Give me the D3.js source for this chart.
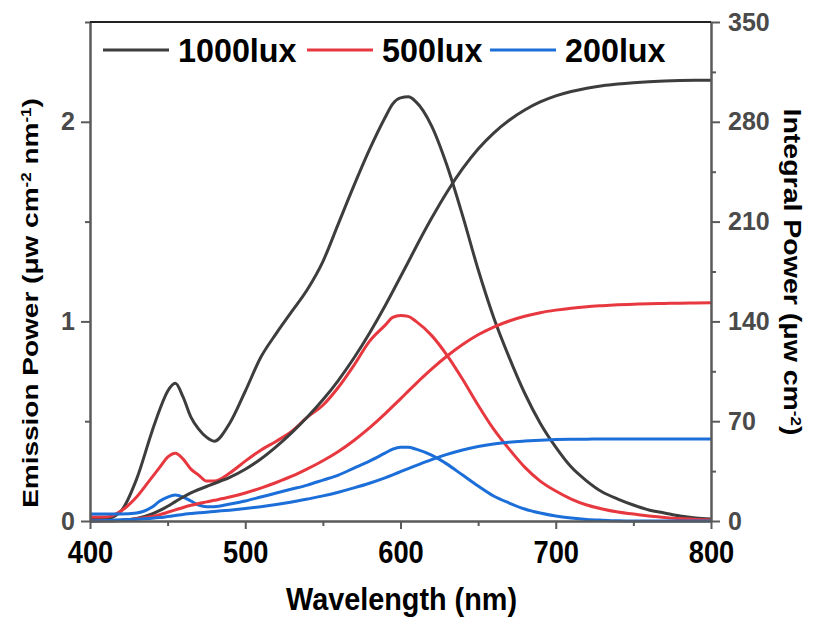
<!DOCTYPE html>
<html>
<head>
<meta charset="utf-8">
<script src="https://cdn.jsdelivr.net/npm/d3@7"></script>
<style>
  body { margin: 0; background: #fff; }
  svg { display: block; }
  text { font-family: "Liberation Sans", Arial, sans-serif; font-weight: bold; }
</style>
</head>
<body>
<div id="chart"></div>
<script>
// wavelength grid (nm)
const wavelength = [400, 410, 420, 430, 440, 445, 450, 455, 460, 465, 470, 475, 480, 490, 500, 510, 520, 530, 540, 550,
  560, 570, 580, 590, 595, 600, 605, 610, 620, 630, 640, 650, 660, 670, 680, 690, 700, 710, 720, 730,
  740, 750, 760, 770, 780, 790, 800];

// emission power (uw cm-2 nm-1), left axis
const emission1000 = [0.01, 0.01, 0.05, 0.21, 0.45, 0.56, 0.65, 0.69, 0.62, 0.52, 0.46, 0.42, 0.40, 0.49, 0.65, 0.82, 0.94, 1.05, 1.16, 1.30,
  1.49, 1.68, 1.86, 2.02, 2.09, 2.12, 2.125, 2.10, 1.98, 1.78, 1.53, 1.26, 1.02, 0.82, 0.64, 0.49, 0.37, 0.27, 0.20, 0.145,
  0.11, 0.08, 0.055, 0.04, 0.025, 0.015, 0.01];
const emission500 = [0.02, 0.02, 0.05, 0.12, 0.22, 0.27, 0.32, 0.34, 0.31, 0.26, 0.23, 0.20, 0.20, 0.24, 0.30, 0.355, 0.40, 0.45, 0.52, 0.58,
  0.67, 0.78, 0.90, 0.98, 1.02, 1.03, 1.025, 1.00, 0.93, 0.83, 0.71, 0.58, 0.46, 0.36, 0.27, 0.20, 0.15, 0.11, 0.08, 0.06,
  0.045, 0.035, 0.025, 0.018, 0.012, 0.008, 0.005];
const emission200 = [0.035, 0.035, 0.035, 0.04, 0.07, 0.10, 0.12, 0.13, 0.12, 0.10, 0.08, 0.072, 0.072, 0.085, 0.10, 0.12, 0.14, 0.16, 0.18, 0.205,
  0.23, 0.265, 0.30, 0.34, 0.36, 0.37, 0.37, 0.36, 0.33, 0.285, 0.23, 0.175, 0.125, 0.09, 0.06, 0.04, 0.025, 0.015, 0.008, 0.004,
  0.001, 0, 0, 0, 0, 0, 0];

// integral power (uw cm-2), right axis
const integral1000 = [0, 0.1, 0.4, 1.7, 4.9, 7.4, 10.3, 13.6, 16.8, 19.7, 22.1, 24.2, 26.3, 30.6, 36.3, 43.5, 52.2, 62, 72.9, 85,
  98.7, 114.3, 131.7, 150.8, 161, 171.3, 181.7, 192.2, 212.3, 230.8, 247.1, 260.9, 272.1, 281.1, 288.3, 293.9, 298.2, 301.3, 303.6, 305.3,
  306.5, 307.4, 308.1, 308.6, 308.9, 309.1, 309.2];
const integral500 = [0, 0.2, 0.6, 1.5, 3.2, 4.5, 6.1, 7.8, 9.5, 11.0, 12.3, 13.4, 14.5, 16.8, 19.6, 23.1, 27.0, 31.4, 36.6, 42.3,
  48.8, 56.5, 65.3, 75.1, 80.4, 85.7, 91.1, 96.4, 106.5, 115.7, 123.8, 130.6, 136.0, 140.3, 143.6, 146.1, 147.9, 149.3, 150.3, 151.0,
  151.6, 152.0, 152.4, 152.6, 152.8, 152.9, 153.0];
const integral200 = [0, 0.4, 0.8, 1.3, 1.9, 2.4, 3.1, 3.8, 4.6, 5.2, 5.8, 6.2, 6.7, 7.6, 8.7, 10.0, 11.5, 13.3, 15.4, 17.6,
  20.2, 23.2, 26.5, 30.3, 32.4, 34.6, 36.8, 38.9, 43.0, 46.7, 49.8, 52.2, 54.0, 55.3, 56.1, 56.7, 57.1, 57.3, 57.4, 57.5,
  57.5, 57.5, 57.5, 57.5, 57.5, 57.5, 57.5];

// legend labels and tick values
const seriesLabels = ["1000lux", "500lux", "200lux"];
const xTicks = [400, 500, 600, 700, 800];
const xMinorTicks = [450, 550, 650, 750];
const leftTicks = [0, 1, 2];
const leftMinorTicks = [0.5, 1.5, 2.5];
const rightTicks = [0, 70, 140, 210, 280, 350];
const rightMinorTicks = [35, 105, 175, 245, 315];

const colors = ["#3d3d3d", "#e8383f", "#1c6ed8"];
const axisColor = "#5a5a5a";

const width = 815, height = 618;
const margin = { top: 22, right: 104, bottom: 97, left: 90 };

const svg = d3.select("#chart").append("svg").attr("width", width).attr("height", height);

const x = d3.scaleLinear().domain([400, 800]).range([margin.left, width - margin.right]);
const yLeft = d3.scaleLinear().domain([0, 2.5]).range([height - margin.bottom, margin.top]);
const yRight = d3.scaleLinear().domain([0, 350]).range([height - margin.bottom, margin.top]);

// squeeze text horizontally (the reference uses narrow glyphs for horizontal labels)
const squeeze = (sel, k) => sel.each(function () {
  const len = this.getComputedTextLength();
  d3.select(this).attr("textLength", len * k).attr("lengthAdjust", "spacingAndGlyphs");
});

// build series from the arrays
const emissions = [emission1000, emission500, emission200];
const integrals = [integral1000, integral500, integral200];
const toPoints = vals => wavelength.map((w, i) => ({ w, v: vals[i] }));

const lineLeft = d3.line().x(d => x(d.w)).y(d => yLeft(d.v)).curve(d3.curveMonotoneX);
const lineRight = d3.line().x(d => x(d.w)).y(d => yRight(d.v)).curve(d3.curveMonotoneX);

const plot = svg.append("g");
emissions.forEach((vals, i) => {
  plot.append("path").datum(toPoints(vals))
    .attr("d", lineLeft).attr("fill", "none")
    .attr("stroke", colors[i]).attr("stroke-width", 3).attr("stroke-linejoin", "round");
});
integrals.forEach((vals, i) => {
  plot.append("path").datum(toPoints(vals))
    .attr("d", lineRight).attr("fill", "none")
    .attr("stroke", colors[i]).attr("stroke-width", 3).attr("stroke-linejoin", "round");
});

// axis styling helper
const styleAxis = (g, labelColor, size) => {
  g.select(".domain").attr("stroke", axisColor).attr("stroke-width", 2);
  g.selectAll(".tick line").attr("stroke", axisColor).attr("stroke-width", 2);
  g.selectAll(".tick text").attr("fill", labelColor)
    .style("font-family", "'Liberation Sans', Arial, sans-serif").style("font-weight", "bold")
    .style("font-size", size + "px");
};

// bottom axis
const gx = svg.append("g").attr("transform", `translate(0,${height - margin.bottom})`)
  .call(d3.axisBottom(x).tickValues(xTicks).tickSize(8).tickPadding(12).tickSizeOuter(0));
styleAxis(gx, "#000", 31);
squeeze(gx.selectAll(".tick text"), 0.88);
svg.append("g").attr("transform", `translate(0,${height - margin.bottom})`)
  .call(d3.axisBottom(x).tickValues(xMinorTicks).tickSize(5).tickFormat("").tickSizeOuter(0))
  .call(g => styleAxis(g, "#000", 31));

// left axis
const gy = svg.append("g").attr("transform", `translate(${margin.left},0)`)
  .call(d3.axisLeft(yLeft).tickValues(leftTicks).tickFormat(d3.format("d")).tickSize(9).tickPadding(6).tickSizeOuter(0));
styleAxis(gy, "#4a4a4a", 25);
svg.append("g").attr("transform", `translate(${margin.left},0)`)
  .call(d3.axisLeft(yLeft).tickValues(leftMinorTicks).tickSize(5).tickFormat("").tickSizeOuter(0))
  .call(g => styleAxis(g, "#4a4a4a", 25));

// right axis
const gr = svg.append("g").attr("transform", `translate(${width - margin.right},0)`)
  .call(d3.axisRight(yRight).tickValues(rightTicks).tickSize(9).tickPadding(8).tickSizeOuter(0));
styleAxis(gr, "#4a4a4a", 25);
svg.append("g").attr("transform", `translate(${width - margin.right},0)`)
  .call(d3.axisRight(yRight).tickValues(rightMinorTicks).tickSize(5).tickFormat("").tickSizeOuter(0))
  .call(g => styleAxis(g, "#4a4a4a", 25));

// top frame line
svg.append("line")
  .attr("x1", margin.left).attr("x2", width - margin.right)
  .attr("y1", margin.top).attr("y2", margin.top)
  .attr("stroke", "#222").attr("stroke-width", 2);

// axis titles
const xTitle = svg.append("text")
  .attr("x", (margin.left + width - margin.right) / 2 + 1).attr("y", 610)
  .attr("text-anchor", "middle").style("font-size", "32px").text("Wavelength (nm)");
squeeze(xTitle, 0.9);

const leftTitle = svg.append("text")
  .attr("transform", "translate(38,303) scale(0.82,1) rotate(-90)")
  .attr("text-anchor", "middle").style("font-size", "28px");
leftTitle.append("tspan").text("Emission Power (μw cm");
leftTitle.append("tspan").attr("baseline-shift", "super").style("font-size", "17px").text("-2");
leftTitle.append("tspan").text(" nm");
leftTitle.append("tspan").attr("baseline-shift", "super").style("font-size", "17px").text("-1");
leftTitle.append("tspan").text(")");

const rightTitle = svg.append("text")
  .attr("transform", "translate(784,272) scale(0.82,1) rotate(90)")
  .attr("text-anchor", "middle").style("font-size", "28.5px");
rightTitle.append("tspan").text("Integral Power (μw cm");
rightTitle.append("tspan").attr("baseline-shift", "super").style("font-size", "17px").text("-2");
rightTitle.append("tspan").text(")");

// legend
const legendX = [103, 307, 490];
const legend = svg.append("g");
seriesLabels.forEach((label, i) => {
  legend.append("line")
    .attr("x1", legendX[i]).attr("x2", legendX[i] + 66)
    .attr("y1", 50).attr("y2", 50)
    .attr("stroke", colors[i]).attr("stroke-width", 3);
  const t = legend.append("text")
    .attr("x", legendX[i] + 75).attr("y", 62)
    .style("font-size", "34px").attr("fill", "#000").text(label);
  squeeze(t, 0.95);
});
</script>
</body>
</html>
